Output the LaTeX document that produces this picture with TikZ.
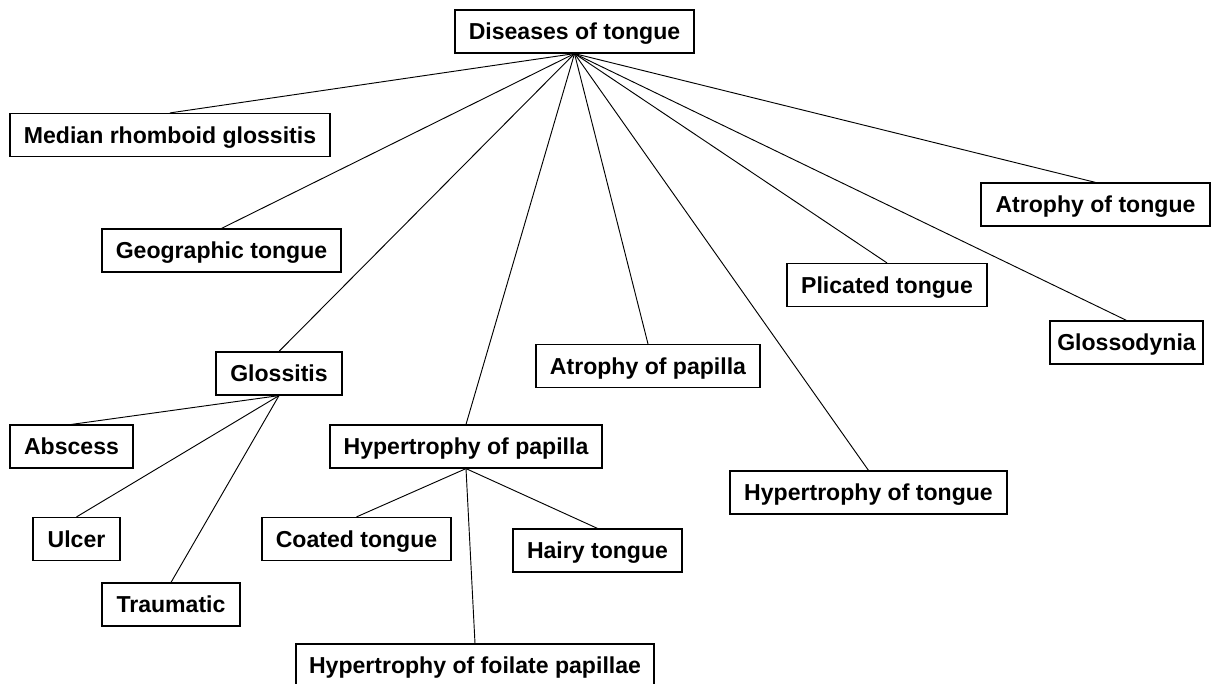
\documentclass[tikz,border=0pt]{standalone}
\usepackage{fontspec}
\setmainfont{Liberation Sans}
\begin{document}
\begin{tikzpicture}[x=0.75pt,y=-0.75pt,
  box/.style={draw, line width=0.9pt, inner sep=0pt, minimum height=32.25pt,
    text height=12.2pt, text depth=0pt,
    font=\fontsize{17.3}{20}\selectfont\bfseries},
  bw/.style={minimum width=#1*0.75pt},
  link/.style={line width=0.7pt}]
\useasboundingbox (0,0) rectangle (1217,683);
% nodes
\node[box,bw=239] (root) at (574.5,31.5) {Diseases of tongue};
\node[box,bw=320] (med) at (170,135) {Median rhomboid glossitis};
\node[box,bw=239] (geo) at (221.5,250.5) {Geographic tongue};
\node[box,bw=126] (glos) at (279,373.5) {Glossitis};
\node[box,bw=123] (absc) at (71.5,446.5) {Abscess};
\node[box,bw=87] (ulcer) at (76.5,539) {Ulcer};
\node[box,bw=138] (traum) at (171,604.5) {Traumatic};
\node[box,bw=272] (hpap) at (466,446.5) {Hypertrophy of papilla};
\node[box,bw=189] (coated) at (356.5,539) {Coated tongue};
\node[box,bw=169] (hairy) at (597.5,550.5) {Hairy tongue};
\node[box,bw=358] (foil) at (475,665.5) {Hypertrophy of foilate papillae};
\node[box,bw=229] (aton) at (1095.5,204.5) {Atrophy of tongue};
\node[box,bw=200] (plic) at (887,285) {Plicated tongue};
\node[box,bw=153] (glosd) at (1126.5,342.5) {Glossodynia};
\node[box,bw=224] (apap) at (648,366) {Atrophy of papilla};
\node[box,bw=277] (hton) at (868.5,492.5) {Hypertrophy of tongue};
% connectors
\foreach \c in {med,geo,glos,hpap,apap,hton,plic,glosd,aton}
  \draw[link] (root.south) -- (\c.north);
\foreach \c in {absc,ulcer,traum}
  \draw[link] (glos.south) -- (\c.north);
\foreach \c in {coated,hairy,foil}
  \draw[link] (hpap.south) -- (\c.north);
\end{tikzpicture}
\end{document}
